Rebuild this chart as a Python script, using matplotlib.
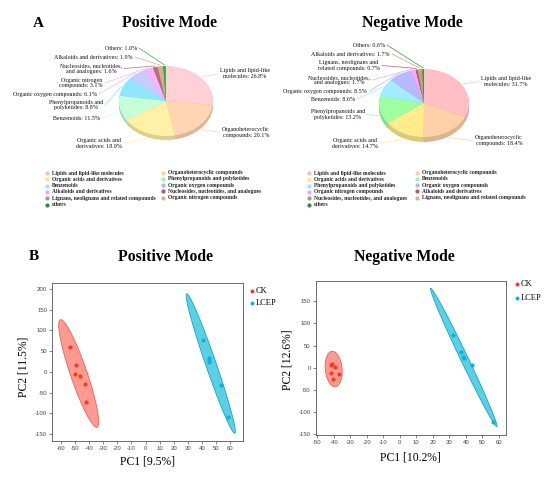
import numpy as np
import matplotlib
matplotlib.use("Agg")
import matplotlib.pyplot as plt
from matplotlib.colors import to_rgb

plt.rcParams["axes.unicode_minus"] = False

W, H = 550, 479
SERIF = ["Liberation Serif", "DejaVu Serif"]
SANS = ["Liberation Sans", "DejaVu Sans"]

# ---------------- data ----------------
pos_names = ["Lipids and lipid-like\nmolecules", "Organoheterocyclic\ncompounds",
             "Organic acids and\nderivatives", "Benzenoids", "Phenylpropanoids and\npolyketides",
             "Organic oxygen compounds", "Organic nitrogen\ncompounds",
             "Nucleosides, nucleotides,\nand analogues", "Alkaloids and derivatives", "Others"]
pos_vals = [26.8, 20.1, 18.9, 11.5, 8.8, 6.1, 3.1, 1.6, 1.9, 1.0]
pos_cols = ["#FFD0D6", "#FFD5B2", "#FFF0A8", "#C4FFD8", "#8FE6FF", "#CACAFF",
            "#F7B3FF", "#B87070", "#D4AC94", "#33B34D"]

neg_names = ["Lipids and lipid-like\nmolecules", "Organoheterocyclic\ncompounds",
             "Organic acids and\nderivatives", "Phenylpropanoids and\npolyketides", "Benzenoids",
             "Organic oxygen compounds", "Nucleosides, nucleotides,\nand analogues",
             "Lignans, neolignans and\nrelated compounds", "Alkaloids and derivatives", "Others"]
neg_vals = [31.7, 18.4, 14.7, 13.2, 8.6, 8.5, 1.7, 0.7, 1.7, 0.6]
neg_cols = ["#FFBFC4", "#FFD1A8", "#FFEC8C", "#A0FFA0", "#A0EEFF", "#B8B8FF",
            "#F5A8FF", "#B06060", "#C8A080", "#2E9E3E"]

leg_pos_labels = ["Lipids and lipid-like molecules", "Organic acids and derivatives", "Benzenoids",
                  "Alkaloids and derivatives", "Lignans, neolignans and related compounds", "others",
                  "Organoheterocyclic compounds", "Phenylpropanoids and polyketides",
                  "Organic oxygen compounds", "Nucleosides, nucleotides, and analogues",
                  "Organic nitrogen compounds"]
leg_neg_labels = ["Lipids and lipid-like molecules", "Organic acids and derivatives",
                  "Phenylpropanoids and polyketides", "Organic nitrogen compounds",
                  "Nucleosides, nucleotides, and analogues", "others",
                  "Organoheterocyclic compounds", "Benzenoids", "Organic oxygen compounds",
                  "Alkaloids and derivatives", "Lignans, neolignans and related compounds"]
leg_cols = ["#FFB8C0", "#FFE680", "#99E6FF", "#F0A0FF", "#C0906E", "#2E8B3A",
            "#FFCBA0", "#A0F5A8", "#B3B3FF", "#B05A5A", "#C8B98A"]

# PCA scores
pos_ck_x = [-53.6, -48.9, -49.8, -46.3, -43.0, -42.0]
pos_ck_y = [61, 17, -6, -9, -29, -72]
pos_lc_x = [40.8, 44.6, 45.1, 44.8, 53.1, 58.3]
pos_lc_y = [77, 33, 29, 24, -31, -108]
neg_ck_x = [-41.3, -39.1, -41.9, -37.1, -40.5, -41.8]
neg_ck_y = [7.6, 2.3, -11.3, -14.3, -25.6, 6.0]
neg_lc_x = [32.1, 37.4, 38.8, 43.6, 56.8, 38.2]
neg_lc_y = [73, 34.7, 21.1, 6.8, -123.5, 24.0]
# ellipses: centre x, centre y, tip offset dx, dy, horizontal half-chord
pos_ck_ell = (-47.3, -4.0, -12.7, 130.0, 6.2)
pos_lc_ell = (46.15, 20.1, -16.95, 168.5, 3.9)
neg_ck_ell = (-40.1, -3.0, -0.8, 40.0, 5.1)
neg_lc_ell = (38.8, 23.0, -20.0, 156.4, 2.5)

CK_PT, CK_FILL, CK_EDGE = "#F03C28", "#FF9A90", "#F06050"
LC_PT, LC_FILL, LC_EDGE = "#10B0D8", "#5BCFE6", "#10A8C8"

# ---------------- figure ----------------
fig = plt.figure(figsize=(W / 100, H / 100), dpi=100)
fig.patch.set_facecolor("white")


def px_axes(l, t, r, b, z=1):
    return fig.add_axes([l / W, 1 - b / H, (r - l) / W, (b - t) / H], zorder=z)


ov = px_axes(0, 0, W, H, z=10)
ov.set_xlim(0, W)
ov.set_ylim(H, 0)
ov.axis("off")
ov.patch.set_alpha(0)


def draw_pie(cx, cy, rx, ry, depth, vals, cols, labels, lab_pos):
    ax = px_axes(cx - rx, cy - ry, cx + rx, cy + ry + depth)
    d = depth / ry
    dark = [tuple(c * 0.86 for c in to_rgb(col)) for col in cols]
    n = 6
    for j in range(n, 0, -1):
        ax.pie(vals, colors=dark, startangle=90, counterclock=False,
               center=(0, -d * j / n), radius=1, wedgeprops=dict(linewidth=0))
    ax.pie(vals, colors=cols, startangle=90, counterclock=False,
           center=(0, 0), radius=1, wedgeprops=dict(linewidth=0))
    ax.set_aspect("auto")
    ax.set_xlim(-1, 1)
    ax.set_ylim(-1 - d, 1)
    ax.axis("off")
    tot = sum(vals)
    cum = np.cumsum(vals)
    for i, (v, lab) in enumerate(zip(vals, labels)):
        th = np.deg2rad(90 - 360 * (cum[i] - v / 2) / tot)
        ex = cx + rx * 1.03 * np.cos(th)
        ey = cy - ry * 1.03 * np.sin(th) + (depth if np.sin(th) < 0 else 0)
        tx, ty, ha = lab_pos[i]
        lx = tx + 2 if ha == "right" else tx - 2
        ov.plot([lx, ex], [ty, ey], color=cols[i], lw=0.5)
        ov.text(tx, ty, f"{lab}: {v:.1f}%", ha=ha, va="center", multialignment="center",
                fontsize=4.3, family=SERIF, color="#111111", linespacing=1.05)


pos_lab_pos = [(220, 73.5, "left"), (222, 132.5, "left"), (122, 143.5, "right"),
               (100, 118, "right"), (103, 105, "right"), (97, 94, "right"),
               (103, 83, "right"), (122, 68.5, "right"), (133, 57, "right"), (137, 48, "right")]
neg_lab_pos = [(481, 81.5, "left"), (475, 140.5, "left"), (378, 143.5, "right"),
               (365, 114.5, "right"), (355, 99, "right"), (367, 91, "right"),
               (370, 80, "right"), (380, 65.5, "right"), (390, 54, "right"), (385, 45, "right")]

draw_pie(166, 101, 47, 35, 4, pos_vals, pos_cols, pos_names, pos_lab_pos)
draw_pie(424, 103, 45, 34, 5, neg_vals, neg_cols, neg_names, neg_lab_pos)


def pie_legend(labels, mx_l, mx_r, y0_l, y0_r):
    for i, lab in enumerate(labels):
        if i < 6:
            mx, y = mx_l, y0_l + 6.3 * i
        else:
            mx, y = mx_r, y0_r + 6.3 * (i - 6)
        ov.scatter([mx], [y], s=9, color=leg_cols[i], linewidths=0)
        ov.text(mx + 5, y, lab, ha="left", va="center", fontsize=4.0,
                family=SERIF, fontweight="bold", color="#222222")


pie_legend(leg_pos_labels, 47, 163, 173, 172.5)
pie_legend(leg_neg_labels, 309, 417, 173, 172.5)

# titles
ov.text(38, 23, "A", ha="center", va="center", fontsize=11, family=SERIF, fontweight="bold")
ov.text(170, 23, "Positive Mode", ha="center", va="center", fontsize=11.3, family=SERIF, fontweight="bold")
ov.text(412, 23, "Negative Mode", ha="center", va="center", fontsize=11.3, family=SERIF, fontweight="bold")
ov.text(34, 257, "B", ha="center", va="center", fontsize=11, family=SERIF, fontweight="bold")
ov.text(166, 257, "Positive Mode", ha="center", va="center", fontsize=11.3, family=SERIF, fontweight="bold")
ov.text(404, 257, "Negative Mode", ha="center", va="center", fontsize=11.3, family=SERIF, fontweight="bold")


def ellipse(ax, par, fc, ec):
    cx, cy, dx, dy, w = par
    t = np.linspace(0, 2 * np.pi, 300)
    ax.fill(cx + dx * np.cos(t) + w * np.sin(t), cy + dy * np.cos(t),
            facecolor=fc, edgecolor=ec, lw=0.6, zorder=1)


def pca(box, xlim, ylim, xt, yt, ckx, cky, lcx, lcy, ckell, lcell):
    ax = px_axes(*box)
    ellipse(ax, ckell, CK_FILL, CK_EDGE)
    ellipse(ax, lcell, LC_FILL, LC_EDGE)
    ax.scatter(ckx, cky, s=9, color=CK_PT, linewidths=0, zorder=3)
    ax.scatter(lcx, lcy, s=9, color=LC_PT, linewidths=0, zorder=3)
    ax.set_xlim(*xlim)
    ax.set_ylim(*ylim)
    ax.set_xticks(xt)
    ax.set_yticks(yt)
    ax.tick_params(labelsize=4.3, length=2, width=0.5, color="#555555",
                   labelcolor="#444444", pad=1.5)
    for lb in ax.get_xticklabels() + ax.get_yticklabels():
        lb.set_family(SANS)
    for sp in ax.spines.values():
        sp.set_color("#555555")
        sp.set_linewidth(0.6)
    return ax


pca((52, 283, 243, 441), (-66.2, 69), (-167, 214.5), range(-60, 61, 10), range(-150, 201, 50),
    pos_ck_x, pos_ck_y, pos_lc_x, pos_lc_y, pos_ck_ell, pos_lc_ell)
pca((315.7, 280.7, 506, 435), (-51, 64.4), (-152.3, 196.7), range(-50, 61, 10), range(-150, 151, 50),
    neg_ck_x, neg_ck_y, neg_lc_x, neg_lc_y, neg_ck_ell, neg_lc_ell)

# axis labels
ov.text(147, 462, "PC1 [9.5%]", ha="center", va="center", fontsize=8.4, family=SERIF)
ov.text(23, 367, "PC2 [11.5%]", ha="center", va="center", rotation=90, fontsize=8.4, family=SERIF)
ov.text(410, 457, "PC1 [10.2%]", ha="center", va="center", fontsize=8.4, family=SERIF)
ov.text(287, 360, "PC2 [12.6%]", ha="center", va="center", rotation=90, fontsize=8.4, family=SERIF)

# PCA legends
for (mx, y1, y2) in [(252, 291, 303), (517, 284, 298)]:
    ov.scatter([mx], [y1], s=8, color=CK_PT, linewidths=0)
    ov.scatter([mx], [y2], s=8, color=LC_PT, linewidths=0)
    ov.text(mx + 4, y1, "CK", ha="left", va="center", fontsize=6, family=SERIF)
    ov.text(mx + 4, y2, "LCEP", ha="left", va="center", fontsize=6, family=SERIF)

fig.savefig("out.png", dpi=100, facecolor="white")
